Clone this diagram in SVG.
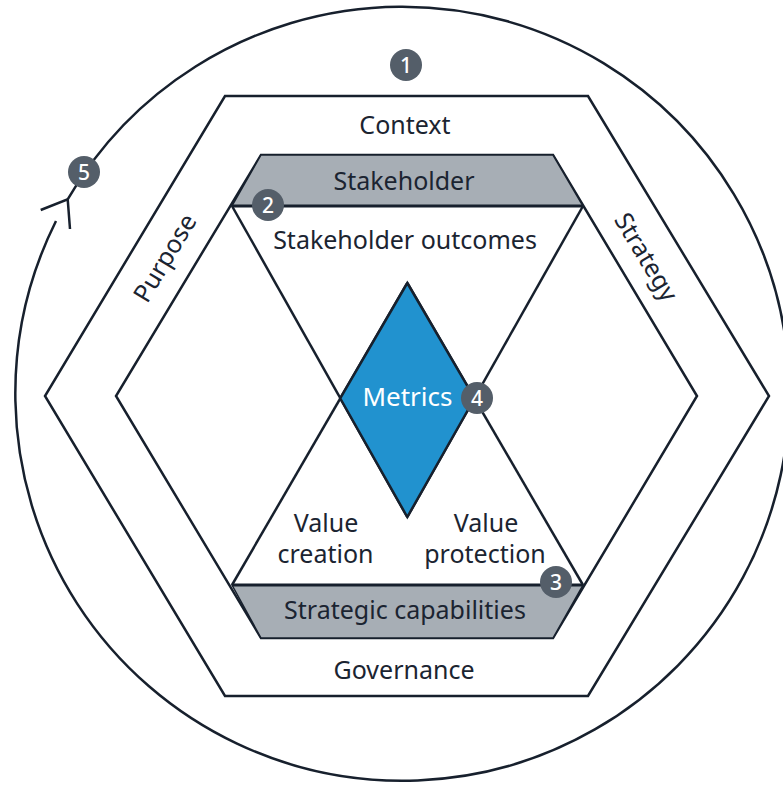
<svg xmlns="http://www.w3.org/2000/svg" width="783" height="787" viewBox="0 0 783 787">
<style>
.ln{fill:none;stroke:#17202d;stroke-width:2.5;stroke-linejoin:miter}
.band{fill:#a7aeb5;stroke:#17202d;stroke-width:1.5}
.lbl{font-family:"Noto Sans","DejaVu Sans",sans-serif;font-size:25px;fill:#1b2431;text-anchor:middle}
.badge circle{fill:#545e69}
.badge text{font-family:"Noto Sans","DejaVu Sans",sans-serif;font-size:21px;fill:#ffffff;text-anchor:middle;font-weight:500}
</style>
<rect width="783" height="787" fill="#ffffff"/>
<g id="connectors">
<path class="ln" d="M67.7 199.3 A387 387 0 1 1 56 221"/>
<path class="ln" d="M40.7 210 L67.7 199.3 L70 229"/>
</g>
<g id="outer-hexagon">
<polygon class="ln" points="225,96 588,96 769,396 588,696 225,696 45,396"/>
<text class="lbl" x="405" y="134">Context</text>
<text class="lbl" x="404" y="679">Governance</text>
<text class="lbl" transform="translate(165,258) rotate(-59)" y="8.5">Purpose</text>
<text class="lbl" transform="translate(646,257) rotate(59)" y="8.5">Strategy</text>
</g>
<g id="inner-hexagon">
<polygon class="ln" points="261,155 553,155 697,396 553,638 261,638 116,396"/>
</g>
<g id="stakeholder">
<polygon class="band" points="261,155 553,155 583,206 232,206"/>
<line class="ln" x1="232" y1="206" x2="583" y2="206" style="stroke-width:3"/>
<text class="lbl" x="404" y="190">Stakeholder</text>
</g>
<g id="strategic-capabilities">
<polygon class="band" points="232,585 583,585 553,638 261,638"/>
<line class="ln" x1="232" y1="585" x2="583" y2="585" style="stroke-width:3"/>
<text class="lbl" x="405" y="619">Strategic capabilities</text>
</g>
<g id="triangles">
<polyline class="ln" points="232,206 407.3,517"/>
<polyline class="ln" points="583,206 407.3,517"/>
<polyline class="ln" points="232,585 407.3,283"/>
<polyline class="ln" points="583,585 407.3,283"/>
<text class="lbl" x="405" y="249">Stakeholder outcomes</text>
<text class="lbl" x="326" y="532">Value</text>
<text class="lbl" x="325.5" y="563">creation</text>
<text class="lbl" x="486" y="532">Value</text>
<text class="lbl" x="485" y="563">protection</text>
</g>
<g id="metrics">
<polygon points="407.3,283 474.6,398.3 407.3,517 340.2,398.3" fill="#2192cf" stroke="#17202d" stroke-width="2.5"/>
<text class="lbl" x="407.5" y="406" style="fill:#ffffff;font-size:26px">Metrics</text>
</g>
<g id="badge-1" class="badge"><circle cx="406" cy="65" r="16"/><text x="406" y="72.5">1</text></g>
<g id="badge-2" class="badge"><circle cx="268" cy="205" r="16"/><text x="268" y="212.5">2</text></g>
<g id="badge-3" class="badge"><circle cx="556" cy="582" r="16"/><text x="556" y="589.5">3</text></g>
<g id="badge-4" class="badge"><circle cx="477" cy="398" r="16"/><text x="477" y="405.5">4</text></g>
<g id="badge-5" class="badge"><circle cx="84" cy="172" r="16"/><text x="84" y="179.5">5</text></g>
</svg>
